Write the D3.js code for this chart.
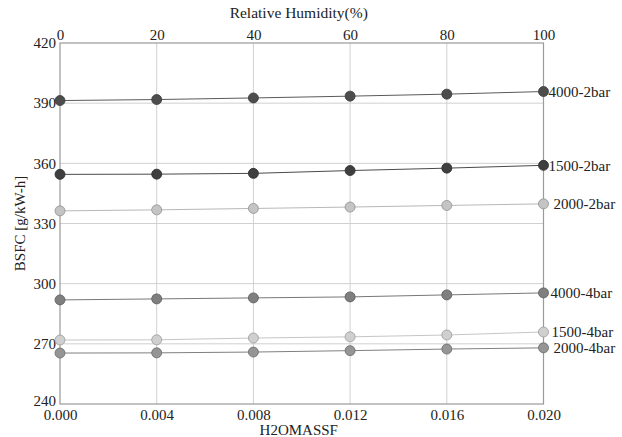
<!DOCTYPE html>
<html>
<head>
<meta charset="utf-8">
<script src="https://cdn.jsdelivr.net/npm/d3@7"></script>
<style>
  html, body { margin: 0; padding: 0; background: #fff; }
  svg { display: block; font-family: "Liberation Serif", "DejaVu Serif", serif; }
  svg text { font-family: "Liberation Serif", "DejaVu Serif", serif; }
</style>
</head>
<body>
<svg id="chart" width="622" height="437"></svg>
<script>
// ---- data ----
const xValues = [0.000, 0.004, 0.008, 0.012, 0.016, 0.020];
const xTickLabels = ["0.000", "0.004", "0.008", "0.012", "0.016", "0.020"];
const rhTickValues = [0, 20, 40, 60, 80, 100];
const yTickValues = [240, 270, 300, 330, 360, 390, 420];
const seriesNames = ["4000-2bar", "1500-2bar", "2000-2bar", "4000-4bar", "1500-4bar", "2000-4bar"];
const s4000_2bar = [391.3, 391.8, 392.6, 393.5, 394.5, 395.8];
const s1500_2bar = [354.5, 354.6, 355.0, 356.4, 357.6, 359.0];
const s2000_2bar = [336.3, 336.8, 337.5, 338.2, 339.0, 339.8];
const s4000_4bar = [291.9, 292.4, 292.9, 293.4, 294.4, 295.4];
const s1500_4bar = [271.9, 272.0, 272.9, 273.5, 274.4, 275.9];
const s2000_4bar = [265.4, 265.5, 265.9, 266.6, 267.4, 268.0];
const seriesValues = [s4000_2bar, s1500_2bar, s2000_2bar, s4000_4bar, s1500_4bar, s2000_4bar];
const seriesFill = ["#4d4d4d", "#3f3f3f", "#c4c4c4", "#7f7f7f", "#cfcfcf", "#959595"];
const seriesStroke = ["#3a3a3a", "#2a2a2a", "#909090", "#5a5a5a", "#9a9a9a", "#6a6a6a"];
const lineColor = ["#5a5a5a", "#4a4a4a", "#b8b8b8", "#777777", "#c6c6c6", "#808080"];
const labelDx = [5, 5, 10, 7, 8, 10];

(function () {
// ---- layout ----
const svg = d3.select("#chart");
const mLeft = 60, mRight = 543.5, mTop = 43, mBottom = 404;
const x = d3.scaleLinear().domain([0, 0.02]).range([mLeft, mRight]);
const xRH = d3.scaleLinear().domain([0, 100]).range([mLeft, mRight]);
const y = d3.scaleLinear().domain([240, 420]).range([mBottom, mTop]);

// grid
const grid = svg.append("g");
grid.selectAll("line.v").data(xValues.slice(1, -1)).enter().append("line")
  .attr("x1", d => x(d)).attr("x2", d => x(d))
  .attr("y1", mTop).attr("y2", mBottom)
  .attr("stroke", "#d0d0d0").attr("stroke-width", 1);
grid.selectAll("line.h").data(yTickValues.slice(1, -1)).enter().append("line")
  .attr("x1", mLeft).attr("x2", mRight)
  .attr("y1", d => y(d)).attr("y2", d => y(d))
  .attr("stroke", "#d0d0d0").attr("stroke-width", 1);

// frame
svg.append("rect").attr("x", mLeft).attr("y", mTop)
  .attr("width", mRight - mLeft).attr("height", mBottom - mTop)
  .attr("fill", "none").attr("stroke", "#9a9a9a").attr("stroke-width", 1.2);

// axes (labels only)
const fs = 15;
const ff = "Liberation Serif";
const yAxis = d3.axisLeft(y).tickValues(yTickValues).tickSize(0).tickPadding(4);
svg.append("g").attr("transform", `translate(${mLeft},0)`).call(yAxis)
  .attr("font-family", ff)
  .call(g => g.select(".domain").remove())
  .call(g => g.selectAll("text").attr("font-size", fs).attr("font-family", ff).attr("fill", "#222")
    .attr("dy", d => d === 240 ? "0.1em" : "0.32em"));

const xAxis = d3.axisBottom(x).tickValues(xValues).tickFormat((d, i) => xTickLabels[i]).tickSize(0).tickPadding(5);
svg.append("g").attr("transform", `translate(0,${mBottom})`).call(xAxis)
  .attr("font-family", ff)
  .call(g => g.select(".domain").remove())
  .call(g => g.selectAll("text").attr("font-size", fs).attr("font-family", ff).attr("fill", "#222"));

const topAxis = d3.axisTop(xRH).tickValues(rhTickValues).tickSize(0).tickPadding(3);
svg.append("g").attr("transform", `translate(0,${mTop})`).call(topAxis)
  .attr("font-family", ff)
  .call(g => g.select(".domain").remove())
  .call(g => g.selectAll("text").attr("font-size", fs).attr("font-family", ff).attr("fill", "#222"));

// titles
svg.append("text").attr("x", (mLeft + mRight) / 2 - 3).attr("y", 18)
  .attr("text-anchor", "middle").attr("font-size", 15.5).attr("font-family", ff).attr("fill", "#222")
  .text("Relative Humidity(%)");
svg.append("text").attr("x", (mLeft + mRight) / 2 - 3).attr("y", 435)
  .attr("text-anchor", "middle").attr("font-size", fs).attr("font-family", ff).attr("fill", "#222")
  .text("H2OMASSF");
svg.append("text").attr("transform", `translate(25,${(mTop + mBottom) / 2}) rotate(-90)`)
  .attr("text-anchor", "middle").attr("font-size", fs).attr("font-family", ff).attr("fill", "#222")
  .text("BSFC [g/kW-h]");

// series
const line = d3.line().x((d, i) => x(xValues[i])).y(d => y(d));
seriesValues.forEach((vals, si) => {
  const g = svg.append("g");
  g.append("path").datum(vals).attr("d", line)
    .attr("fill", "none").attr("stroke", lineColor[si]).attr("stroke-width", 1);
  g.selectAll("circle").data(vals).enter().append("circle")
    .attr("cx", (d, i) => x(xValues[i])).attr("cy", d => y(d)).attr("r", 5)
    .attr("fill", seriesFill[si]).attr("stroke", seriesStroke[si]).attr("stroke-width", 0.8);
  g.append("text")
    .attr("x", x(xValues[xValues.length - 1]) + labelDx[si])
    .attr("y", y(vals[vals.length - 1]))
    .attr("dy", "0.35em").attr("font-size", fs).attr("font-family", ff).attr("fill", "#222")
    .text(seriesNames[si]);
});
})();
</script>
</body>
</html>
